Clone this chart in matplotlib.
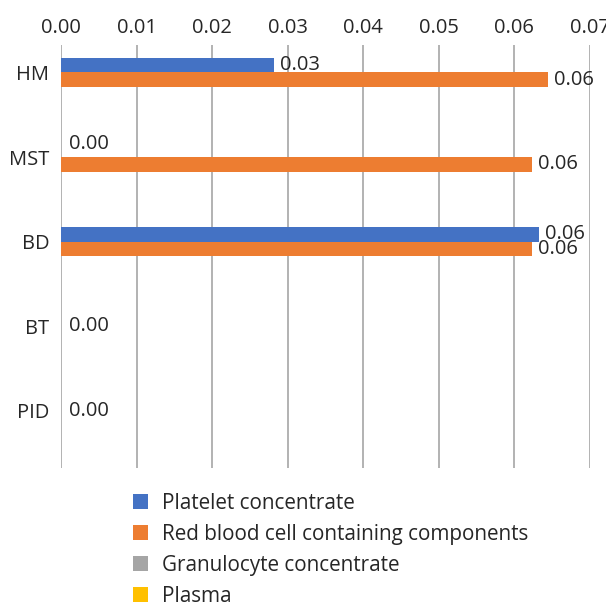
import matplotlib.pyplot as plt
import numpy as np

plt.rcParams['font.family'] = ['Open Sans', 'DejaVu Sans']

categories = ['HM', 'MST', 'BD', 'BT', 'PID']
platelet = [0.0282, 0.0, 0.0633, 0.0, 0.0]
red_cells = [0.0645, 0.0623, 0.0623, 0.0, 0.0]
granulocyte = [0.0, 0.0, 0.0, 0.0, 0.0]
plasma = [0.0, 0.0, 0.0, 0.0, 0.0]
series_names = ['Platelet concentrate', 'Red blood cell containing components',
                'Granulocyte concentrate', 'Plasma']
colors = ['#4472C4', '#ED7D31', '#A5A5A5', '#FFC000']
text_color = '#262626'
fs = 14.5

fig = plt.figure(figsize=(6.06, 6.03), dpi=100)
ax = fig.add_axes([61/606, 135/603, 529/606, 423/603])

y = np.arange(len(categories))
h = 0.176
bars = []
for i, (vals, name, c) in enumerate(zip([platelet, red_cells, granulocyte, plasma],
                                        series_names, colors)):
    b = ax.barh(y + (i - 1.5) * h, vals, height=h, color=c, label=name)
    bars.append(b)

# value labels for the two series that carry data
for k in range(len(categories)):
    if platelet[k] == 0 and red_cells[k] == 0:
        ax.text(0.0011, y[k] - h, f'{0:.2f}', va='center', ha='left',
                fontsize=fs, color=text_color)
        continue
    for i, vals in enumerate([platelet, red_cells]):
        v = vals[k]
        if v == 0:
            ax.text(0.0011, y[k] + (i - 1.5) * h - 0.06, f'{v:.2f}',
                    va='center', ha='left', fontsize=fs, color=text_color)
        else:
            ax.text(v + 0.0008, y[k] + (i - 1.5) * h, f'{v:.2f}',
                    va='center', ha='left', fontsize=fs, color=text_color)

ax.set_xlim(0, 0.07)
ax.set_ylim(4.5, -0.5)
ax.set_xticks(np.arange(0, 0.0701, 0.01))
ax.set_xticklabels([f'{t:.2f}' for t in np.arange(0, 0.0701, 0.01)])
ax.set_yticks(y - h)
ax.set_yticklabels(categories)
ax.xaxis.tick_top()
ax.tick_params(axis='x', length=0, pad=5, labelsize=fs, labelcolor=text_color)
ax.tick_params(axis='y', length=0, pad=8.5, labelsize=fs, labelcolor=text_color)
ax.grid(axis='x', color='#A6A6A6', linewidth=1.2)
ax.set_axisbelow(True)
for s in ax.spines.values():
    s.set_visible(False)

fig.legend(handles=bars, labels=series_names, loc='upper left',
           bbox_to_anchor=(133/606, 1 - 493/603), frameon=False,
           fontsize=14.9, handlelength=0.73, handleheight=0.73,
           handletextpad=0.68, labelspacing=0.48, borderaxespad=0, borderpad=0,
           labelcolor=text_color)

fig.savefig('out.png', dpi=100)
